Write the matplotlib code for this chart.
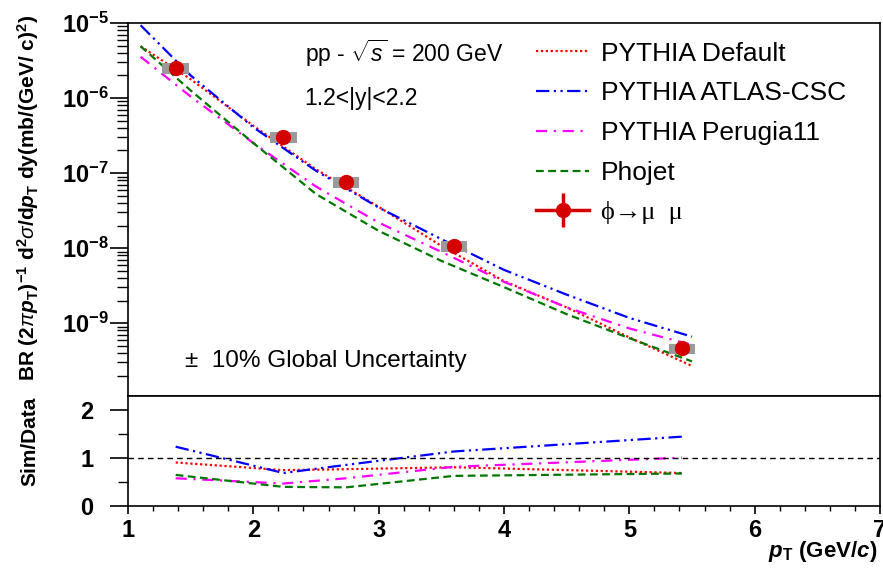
import math
import matplotlib
matplotlib.use("Agg")
import matplotlib.pyplot as plt
from matplotlib.lines import Line2D
from matplotlib.ticker import LogLocator, NullFormatter, MultipleLocator, FuncFormatter

plt.rcParams['font.family'] = ['Liberation Sans', 'DejaVu Sans']
plt.rcParams['mathtext.fontset'] = 'custom'
plt.rcParams['mathtext.rm'] = 'Liberation Sans'
plt.rcParams['mathtext.it'] = 'Liberation Sans:italic'
plt.rcParams['mathtext.bf'] = 'Liberation Sans:bold'
plt.rcParams['mathtext.bfit'] = 'Liberation Sans:bold:italic'

# phi -> mu mu measurement
pt = [1.38, 2.24, 2.74, 3.60, 5.42]
xsec = [2.5e-6, 3.0e-7, 7.6e-8, 1.07e-8, 4.6e-10]
syst = [0.16, 0.16, 0.16, 0.16, 0.16]

# model curves (log10 of cross section)
pt_model = [1.1, 1.5, 2.0, 2.5, 3.0, 3.5, 4.0, 4.5, 5.0, 5.5]
lg_default = [-5.31, -5.75, -6.37, -6.95, -7.45, -7.97, -8.44, -8.79, -9.19, -9.57]
lg_atlas = [-5.03, -5.70, -6.39, -6.97, -7.46, -7.88, -8.29, -8.62, -8.93, -9.18]
lg_perugia = [-5.45, -5.98, -6.60, -7.18, -7.66, -8.05, -8.45, -8.79, -9.07, -9.29]
lg_phojet = [-5.31, -5.90, -6.60, -7.28, -7.77, -8.17, -8.52, -8.88, -9.20, -9.51]

# Sim/Data ratios at data points
r_default = [0.91, 0.75, 0.77, 0.81, 0.69]
r_atlas = [1.24, 0.69, 0.86, 1.14, 1.45]
r_perugia = [0.58, 0.47, 0.58, 0.82, 1.01]
r_phojet = [0.65, 0.40, 0.39, 0.63, 0.68]

models = [
    ("PYTHIA Default", lg_default, r_default, "#ff0000", (0, (1, 1.2))),
    ("PYTHIA ATLAS-CSC", lg_atlas, r_atlas, "#0000ff", (0, (6, 2, 1, 2, 1, 2))),
    ("PYTHIA Perugia11", lg_perugia, r_perugia, "#ff00ff", (0, (5, 3, 1, 3))),
    ("Phojet", lg_phojet, r_phojet, "#007700", (0, (3.5, 2))),
]

fig = plt.figure(figsize=(8.83, 5.73), dpi=100)
ax = fig.add_axes([0.145, 0.3089, 0.8516, 0.651])
axr = fig.add_axes([0.145, 0.1169, 0.8516, 0.192], sharex=ax)

handles = []
for name, lg, r, col, ls in models:
    ax.plot(pt_model, [10 ** v for v in lg], color=col, ls=ls, lw=1.6)
    axr.plot(pt, r, color=col, ls=ls, lw=1.6)
    handles.append(Line2D([], [], color=col, ls=ls, lw=1.6))

# systematic boxes + points
lo = [y * (1 - s) for y, s in zip(xsec, syst)]
hgt = [2 * y * s for y, s in zip(xsec, syst)]
ax.bar(pt, hgt, bottom=lo, width=0.21, color="#9a9a9a", zorder=3)
ax.plot(pt, xsec, "o", color="#d40000", ms=10, zorder=4)

data_h = (Line2D([], [], color="#d40000", lw=2.5),
          Line2D([], [], marker="|", ms=24, mew=2.5, color="#d40000", ls=""),
          Line2D([], [], marker="o", ms=10, color="#d40000", ls=""))
handles.append(data_h)
labels = [m[0] for m in models] + ["\u03d5\u2192\u03bc  \u03bc"]

leg = ax.legend(handles, labels, loc="upper left", bbox_to_anchor=(0.543, 0.95),
                frameon=False, fontsize=19, handlelength=2.0, handletextpad=0.45,
                labelspacing=0.6, borderpad=0, borderaxespad=0)
leg.get_texts()[4].set_family(["Liberation Serif", "DejaVu Serif"])

ax.text(0.235, 0.918, r"pp - $\sqrt{s}$ = 200 GeV", transform=ax.transAxes, fontsize=16.5, va="center")
ax.text(0.235, 0.798, "1.2<|y|<2.2", transform=ax.transAxes, fontsize=16.5, va="center")
ax.text(0.076, 0.094, "\u00b1  10% Global Uncertainty", transform=ax.transAxes, fontsize=17.5, va="center")

ax.set_yscale("log")
ax.set_ylim(1.07e-10, 1e-5)
ax.set_xlim(1, 7)
ax.yaxis.set_major_locator(LogLocator(base=10, numticks=20))
ax.yaxis.set_minor_locator(LogLocator(base=10, subs=range(2, 10), numticks=20))
ax.yaxis.set_minor_formatter(NullFormatter())
ax.yaxis.set_major_formatter(FuncFormatter(
    lambda v, p: r"$\mathbf{10^{%d}}$" % round(math.log10(v))))
ax.tick_params(axis="y", which="major", direction="out", length=13, width=1.2, labelsize=17, pad=1)
ax.tick_params(axis="y", which="minor", direction="out", length=8, width=1)
ax.tick_params(axis="x", which="both", bottom=False, labelbottom=False)

axr.set_ylim(0, 2.3)
axr.axhline(1, color="black", lw=1, ls=(0, (4, 3)))
axr.yaxis.set_major_locator(MultipleLocator(1))
axr.yaxis.set_minor_locator(MultipleLocator(0.5))
axr.xaxis.set_major_locator(MultipleLocator(1))
axr.xaxis.set_minor_locator(MultipleLocator(0.2))
axr.tick_params(axis="y", which="major", direction="out", length=13, width=1.2, labelsize=17, pad=12)
axr.tick_params(axis="y", which="minor", direction="out", length=7, width=1)
axr.tick_params(axis="x", which="major", direction="out", length=6, width=1.2, labelsize=17, pad=3)
axr.tick_params(axis="x", which="minor", direction="out", length=3.5, width=1)
for lab in axr.get_xticklabels() + axr.get_yticklabels():
    lab.set_fontweight("bold")

for a in (ax, axr):
    for sp in a.spines.values():
        sp.set_linewidth(1.2)

fig.text(0.032, 0.655,
         r"$\mathbf{BR\ (2}\pi\mathbfit{p}_{\mathbf{T}}\mathbf{)}^{\mathbf{-1}}\mathbf{\ d}^{\mathbf{2}}\sigma\mathbf{/d}\mathbfit{p}_{\mathbf{T}}\mathbf{\ dy(mb/(GeV/\ c)}^{\mathbf{2}}\mathbf{)}$",
         rotation=90, fontsize=15, ha="center", va="center")
fig.text(0.034, 0.23, "Sim/Data", rotation=90, fontsize=15, fontweight="bold", ha="center", va="center")
fig.text(0.993, 0.037, r"$\mathbfit{p}_{\mathbf{T}}\ \mathbf{(GeV/}\mathbfit{c}\mathbf{)}$",
         fontsize=16, ha="right", va="center")

fig.savefig("out.png", dpi=100)
